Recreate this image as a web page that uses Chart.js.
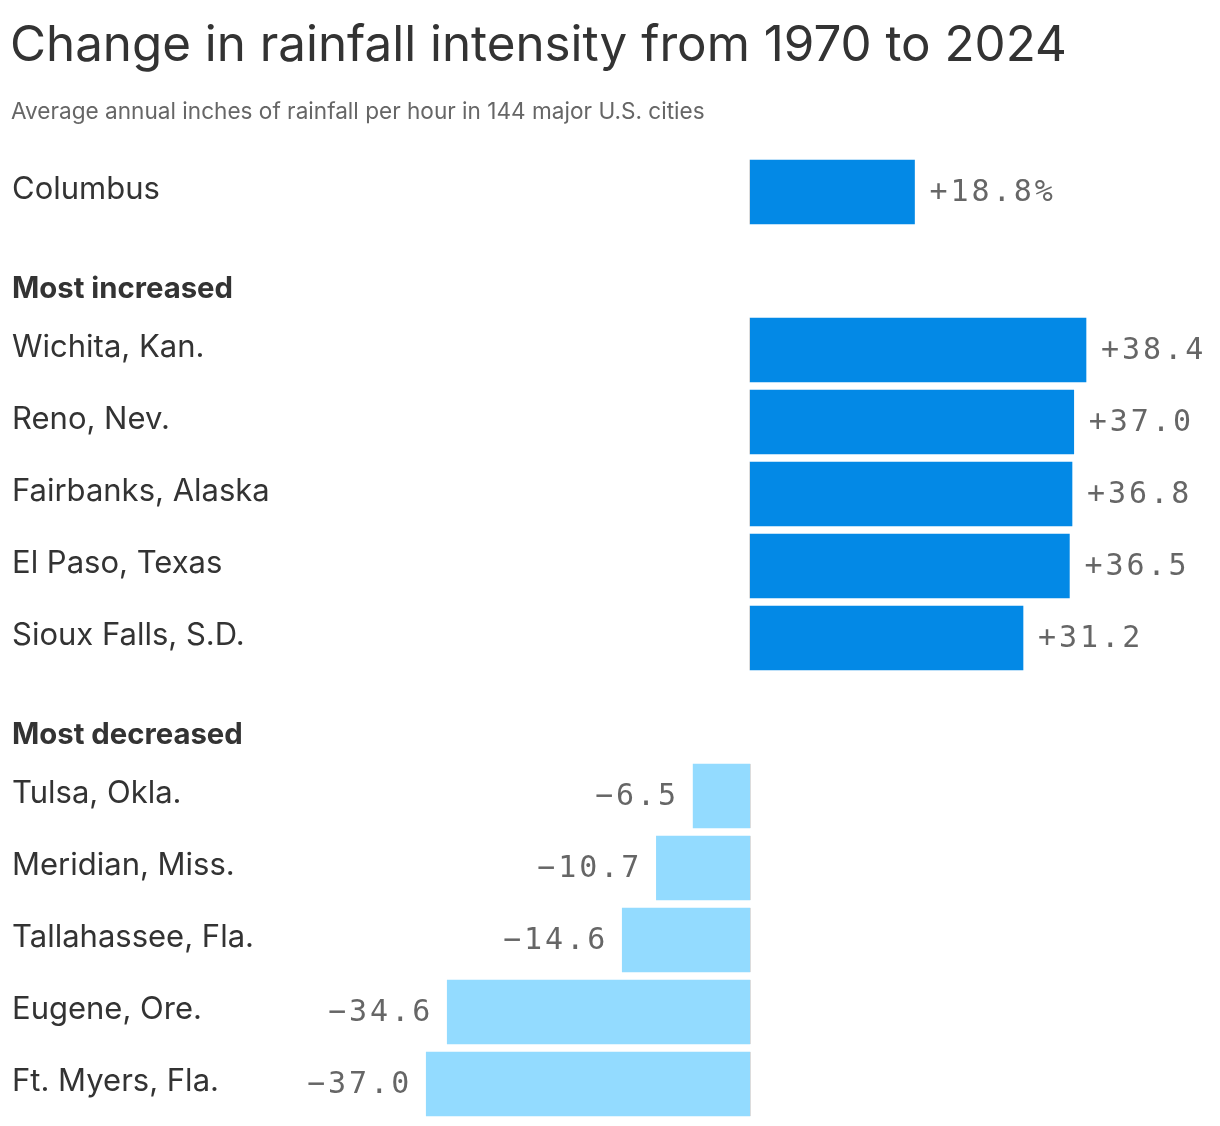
<!DOCTYPE html>
<html>
<head>
<meta charset="utf-8">
<script src="https://cdn.jsdelivr.net/npm/chart.js@4.4.1/dist/chart.umd.min.js"></script>
<style>
  html, body { margin: 0; padding: 0; background: #fff; }
  #wrap { position: relative; width: 1220px; height: 1126px; }
</style>
</head>
<body>
<div id="wrap"><canvas id="rainChart"></canvas></div>
<script>
// Change in rainfall intensity, 1970 to 2024 (percent)
const featuredCity = ['Columbus'];
const featuredValues = [18.8];

const increasedCities = ['Wichita, Kan.', 'Reno, Nev.', 'Fairbanks, Alaska', 'El Paso, Texas', 'Sioux Falls, S.D.'];
const increasedValues = [38.4, 37.0, 36.8, 36.5, 31.2];

const decreasedCities = ['Tulsa, Okla.', 'Meridian, Miss.', 'Tallahassee, Fla.', 'Eugene, Ore.', 'Ft. Myers, Fla.'];
const decreasedValues = [-6.5, -10.7, -14.6, -34.6, -37.0];

const sectionTitles = ['Most increased', 'Most decreased'];

// Layout (pixels)
const W = 1220, H = 1126;
const ROW = 72;            // row pitch
const BAR = 64;            // bar thickness
const ZERO_X = 750;        // where 0% sits
const PX_PER_UNIT = 8.75;
const FIRST_ROW_Y = 192;
const SECTION_GAP = 158;   // distance between last row of a block and first row of next

const blue = '#0389E6';
const lightBlue = '#93DBFF';
const textDark = '#333333';
const textGrey = '#666666';

// build rows
const rows = [];
let y = FIRST_ROW_Y;
featuredCity.forEach((c, i) => rows.push({ label: c, value: featuredValues[i], y: y / ROW, pct: true }));
const headers = [];
y += SECTION_GAP;
headers.push({ text: sectionTitles[0], y: y - 61 });
increasedCities.forEach((c, i) => { rows.push({ label: c, value: increasedValues[i], y: y / ROW }); y += ROW; });
y += SECTION_GAP - ROW;
headers.push({ text: sectionTitles[1], y: y - 61 });
decreasedCities.forEach((c, i) => { rows.push({ label: c, value: decreasedValues[i], y: y / ROW }); y += ROW; });

function fmt(v, pct) {
    const s = Math.abs(v).toFixed(1);
    return (v >= 0 ? '+' : '\u2212') + s + (pct ? '%' : '');
}

const textPlugin = {
    id: 'textPlugin',
    afterDatasetsDraw(chart) {
        const ctx = chart.ctx;
        const xs = chart.scales.x;
        const ys = chart.scales.y;
        ctx.save();

        // faint baseline edge on each bar
        ctx.strokeStyle = '#dcdcdc';
        ctx.lineWidth = 1;
        rows.forEach(r => {
            const py = ys.getPixelForValue(r.y);
            const lx = r.value >= 0 ? ZERO_X - 0.5 : ZERO_X + 0.5;
            ctx.beginPath();
            ctx.moveTo(lx, py - BAR / 2);
            ctx.lineTo(lx, py + BAR / 2);
            ctx.stroke();
        });

        // title + subtitle
        ctx.fillStyle = textDark;
        ctx.textBaseline = 'alphabetic';
        ctx.textAlign = 'left';
        ctx.font = '49.3px Inter';
        ctx.fillText('Change in rainfall intensity from 1970 to 2024', 10, 61);
        ctx.fillStyle = textGrey;
        ctx.font = '22.6px Inter';
        ctx.fillText('Average annual inches of rainfall per hour in 144 major U.S. cities', 11, 119);

        // section headers
        ctx.fillStyle = textDark;
        ctx.textBaseline = 'middle';
        ctx.font = 'bold 29.3px Inter';
        headers.forEach(h => ctx.fillText(h.text, 12, h.y));

        // city labels and values
        rows.forEach(r => {
            const py = ys.getPixelForValue(r.y);
            ctx.fillStyle = textDark;
            ctx.font = '31px Inter';
            ctx.letterSpacing = '0px';
            ctx.textAlign = 'left';
            ctx.fillText(r.label, 12, py - 2);

            const px = xs.getPixelForValue(r.value);
            ctx.fillStyle = textGrey;
            ctx.font = '30px "DejaVu Sans Mono"';
            ctx.letterSpacing = '3px';
            if (r.value >= 0) {
                ctx.textAlign = 'left';
                ctx.fillText(fmt(r.value, r.pct), px + 15, py + 1);
            } else {
                ctx.textAlign = 'right';
                ctx.fillText(fmt(r.value, r.pct), px - 14, py + 1);
            }
        });
        ctx.restore();
    }
};

new Chart(document.getElementById('rainChart'), {
    type: 'bar',
    data: {
        datasets: [{
            data: rows.map(r => ({ x: r.value, y: r.y })),
            backgroundColor: rows.map(r => r.value >= 0 ? blue : lightBlue),
            borderWidth: 0,
            barThickness: BAR,
            grouped: false
        }]
    },
    options: {
        indexAxis: 'y',
        responsive: true,
        maintainAspectRatio: false,
        animation: false,
        layout: { padding: 0 },
        plugins: { legend: { display: false }, tooltip: { enabled: false } },
        scales: {
            x: {
                type: 'linear',
                display: false,
                min: -ZERO_X / PX_PER_UNIT,
                max: (W - ZERO_X) / PX_PER_UNIT
            },
            y: {
                type: 'linear',
                display: false,
                reverse: true,
                offset: false,
                min: 0,
                max: H / ROW
            }
        }
    },
    plugins: [textPlugin]
});
</script>
</body>
</html>
